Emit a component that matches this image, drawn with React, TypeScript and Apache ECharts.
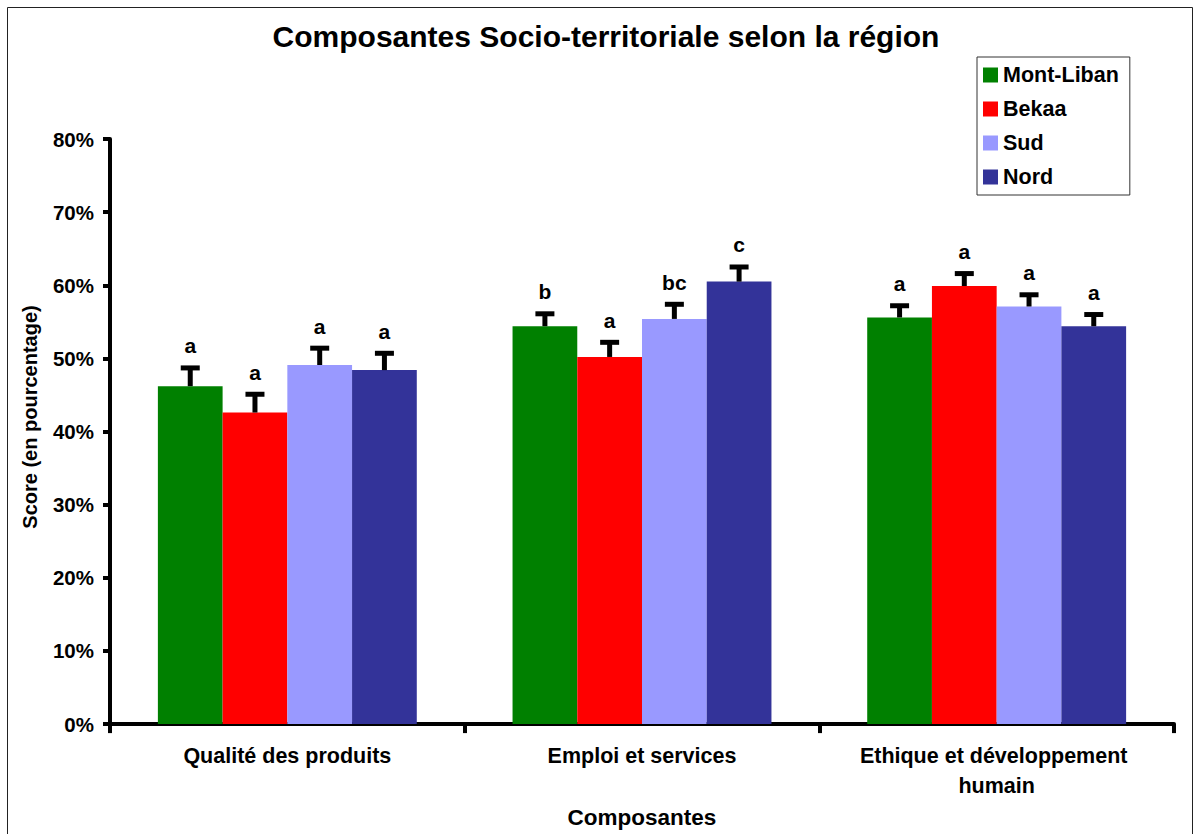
import React, { useEffect, useRef } from "react";
import * as echarts from "echarts";

const categories = ["Qualité des produits", "Emploi et services", "Ethique et développement humain"];
const regions = ["Mont-Liban", "Bekaa", "Sud", "Nord"];
const colors = ["#008000", "#FF0000", "#9999FF", "#333399"];

const montLiban = [46.2, 54.4, 55.6];
const bekaa = [42.6, 50.2, 59.9];
const sud = [49.1, 55.4, 57.1];
const nord = [48.4, 60.5, 54.4];

const montLibanErr = [48.7, 56.1, 57.2];
const bekaaErr = [45.1, 52.2, 61.6];
const sudErr = [51.4, 57.4, 58.7];
const nordErr = [50.7, 62.5, 56.0];

const montLibanLetters = ["a", "b", "a"];
const bekaaLetters = ["a", "a", "a"];
const sudLetters = ["a", "bc", "a"];
const nordLetters = ["a", "c", "a"];

const yTicks = [0, 10, 20, 30, 40, 50, 60, 70, 80];

const values = [montLiban, bekaa, sud, nord];
const errs = [montLibanErr, bekaaErr, sudErr, nordErr];
const letters = [montLibanLetters, bekaaLetters, sudLetters, nordLetters];

const FONT = "'Liberation Sans', Arial, sans-serif";
const CAT_GAP = 0.27;

export default function App() {
  const ref = useRef<HTMLDivElement>(null);

  useEffect(() => {
    document.body.style.margin = "0";
    if (!ref.current) return;
    const chart = echarts.init(ref.current, undefined, { renderer: "svg" });

    const barSeries = regions.map((name, i) => ({
      name,
      type: "bar",
      data: values[i],
      barGap: "0%",
      barCategoryGap: "27%",
      itemStyle: { color: colors[i] },
      z: 2,
    }));

    const errSeries = regions.map((name, i) => ({
      name: name + " err",
      type: "custom",
      z: 5,
      data: values[i].map((v, k) => [k, v, errs[i][k]]),
      renderItem: (params: any, api: any) => {
        const k = api.value(0);
        const v = api.value(1);
        const e = api.value(2);
        const base = api.coord([k, v]);
        const top = api.coord([k, e]);
        const catW = api.size([1, 0])[0];
        const barW = (catW * (1 - CAT_GAP)) / 4;
        const x = base[0] + (i - 1.5) * barW;
        return {
          type: "group",
          children: [
            {
              type: "line",
              shape: { x1: x, y1: base[1], x2: x, y2: top[1] },
              style: { stroke: "#000", lineWidth: 5 },
            },
            {
              type: "line",
              shape: { x1: x - 9.5, y1: top[1], x2: x + 9.5, y2: top[1] },
              style: { stroke: "#000", lineWidth: 5 },
            },
            {
              type: "text",
              x,
              y: top[1] - 22,
              style: {
                text: letters[i][params.dataIndex],
                fill: "#000",
                font: `bold 21px ${FONT}`,
                align: "center",
                verticalAlign: "middle",
              },
            },
          ],
        };
      },
    }));

    chart.setOption({
      animation: false,
      backgroundColor: "#fff",
      textStyle: { fontFamily: FONT },
      title: {
        text: "Composantes Socio-territoriale selon la région",
        left: 601,
        textAlign: "center",
        top: 16,
        textStyle: { fontSize: 30, fontWeight: "bold", color: "#000", fontFamily: FONT },
      },
      legend: {
        orient: "vertical",
        left: 977,
        top: 57,
        data: regions,
        icon: "rect",
        itemWidth: 15,
        itemHeight: 15,
        itemGap: 12,
        padding: [7, 11, 7, 6],
        borderColor: "#333",
        borderWidth: 1,
        textStyle: { fontSize: 21.5, fontWeight: "bold", color: "#000", fontFamily: FONT },
      },
      grid: { left: 110, right: 21, top: 139, bottom: 108.5, containLabel: false },
      xAxis: {
        type: "category",
        data: categories,
        name: "Composantes",
        nameLocation: "middle",
        nameGap: 80,
        nameTextStyle: { fontSize: 22.5, fontWeight: "bold", color: "#000", fontFamily: FONT },
        axisLine: { lineStyle: { color: "#000", width: 4 } },
        axisTick: { show: true, length: 9, lineStyle: { color: "#000", width: 4 }, alignWithLabel: false },
        axisLabel: {
          fontSize: 21.5,
          fontWeight: "bold",
          color: "#000",
          fontFamily: FONT,
          margin: 17,
          lineHeight: 30,
          width: 310,
          overflow: "break",
          interval: 0,
        },
      },
      yAxis: {
        type: "value",
        min: yTicks[0],
        max: yTicks[yTicks.length - 1],
        interval: 10,
        axisLine: { show: true, lineStyle: { color: "#000", width: 4 } },
        axisTick: { show: true, length: 7, lineStyle: { color: "#000", width: 4 } },
        splitLine: { show: false },
        axisLabel: {
          formatter: "{value}%",
          fontSize: 20.5,
          fontWeight: "bold",
          color: "#000",
          fontFamily: FONT,
          margin: 16,
        },
      },
      graphic: [
        {
          type: "rect",
          shape: { x: 7.5, y: 7.5, width: 1185, height: 900 },
          style: { fill: "none", stroke: "#222", lineWidth: 1 },
          silent: true,
          z: -1,
        },
        {
          type: "text",
          x: 30,
          y: 417,
          rotation: Math.PI / 2,
          style: {
            text: "Score (en pourcentage)",
            font: `bold 20px ${FONT}`,
            fill: "#000",
            align: "center",
            verticalAlign: "middle",
          },
        },
      ],
      series: [...barSeries, ...errSeries],
    });

    return () => chart.dispose();
  }, []);

  return <div ref={ref} style={{ width: 1195, height: 834 }} />;
}
